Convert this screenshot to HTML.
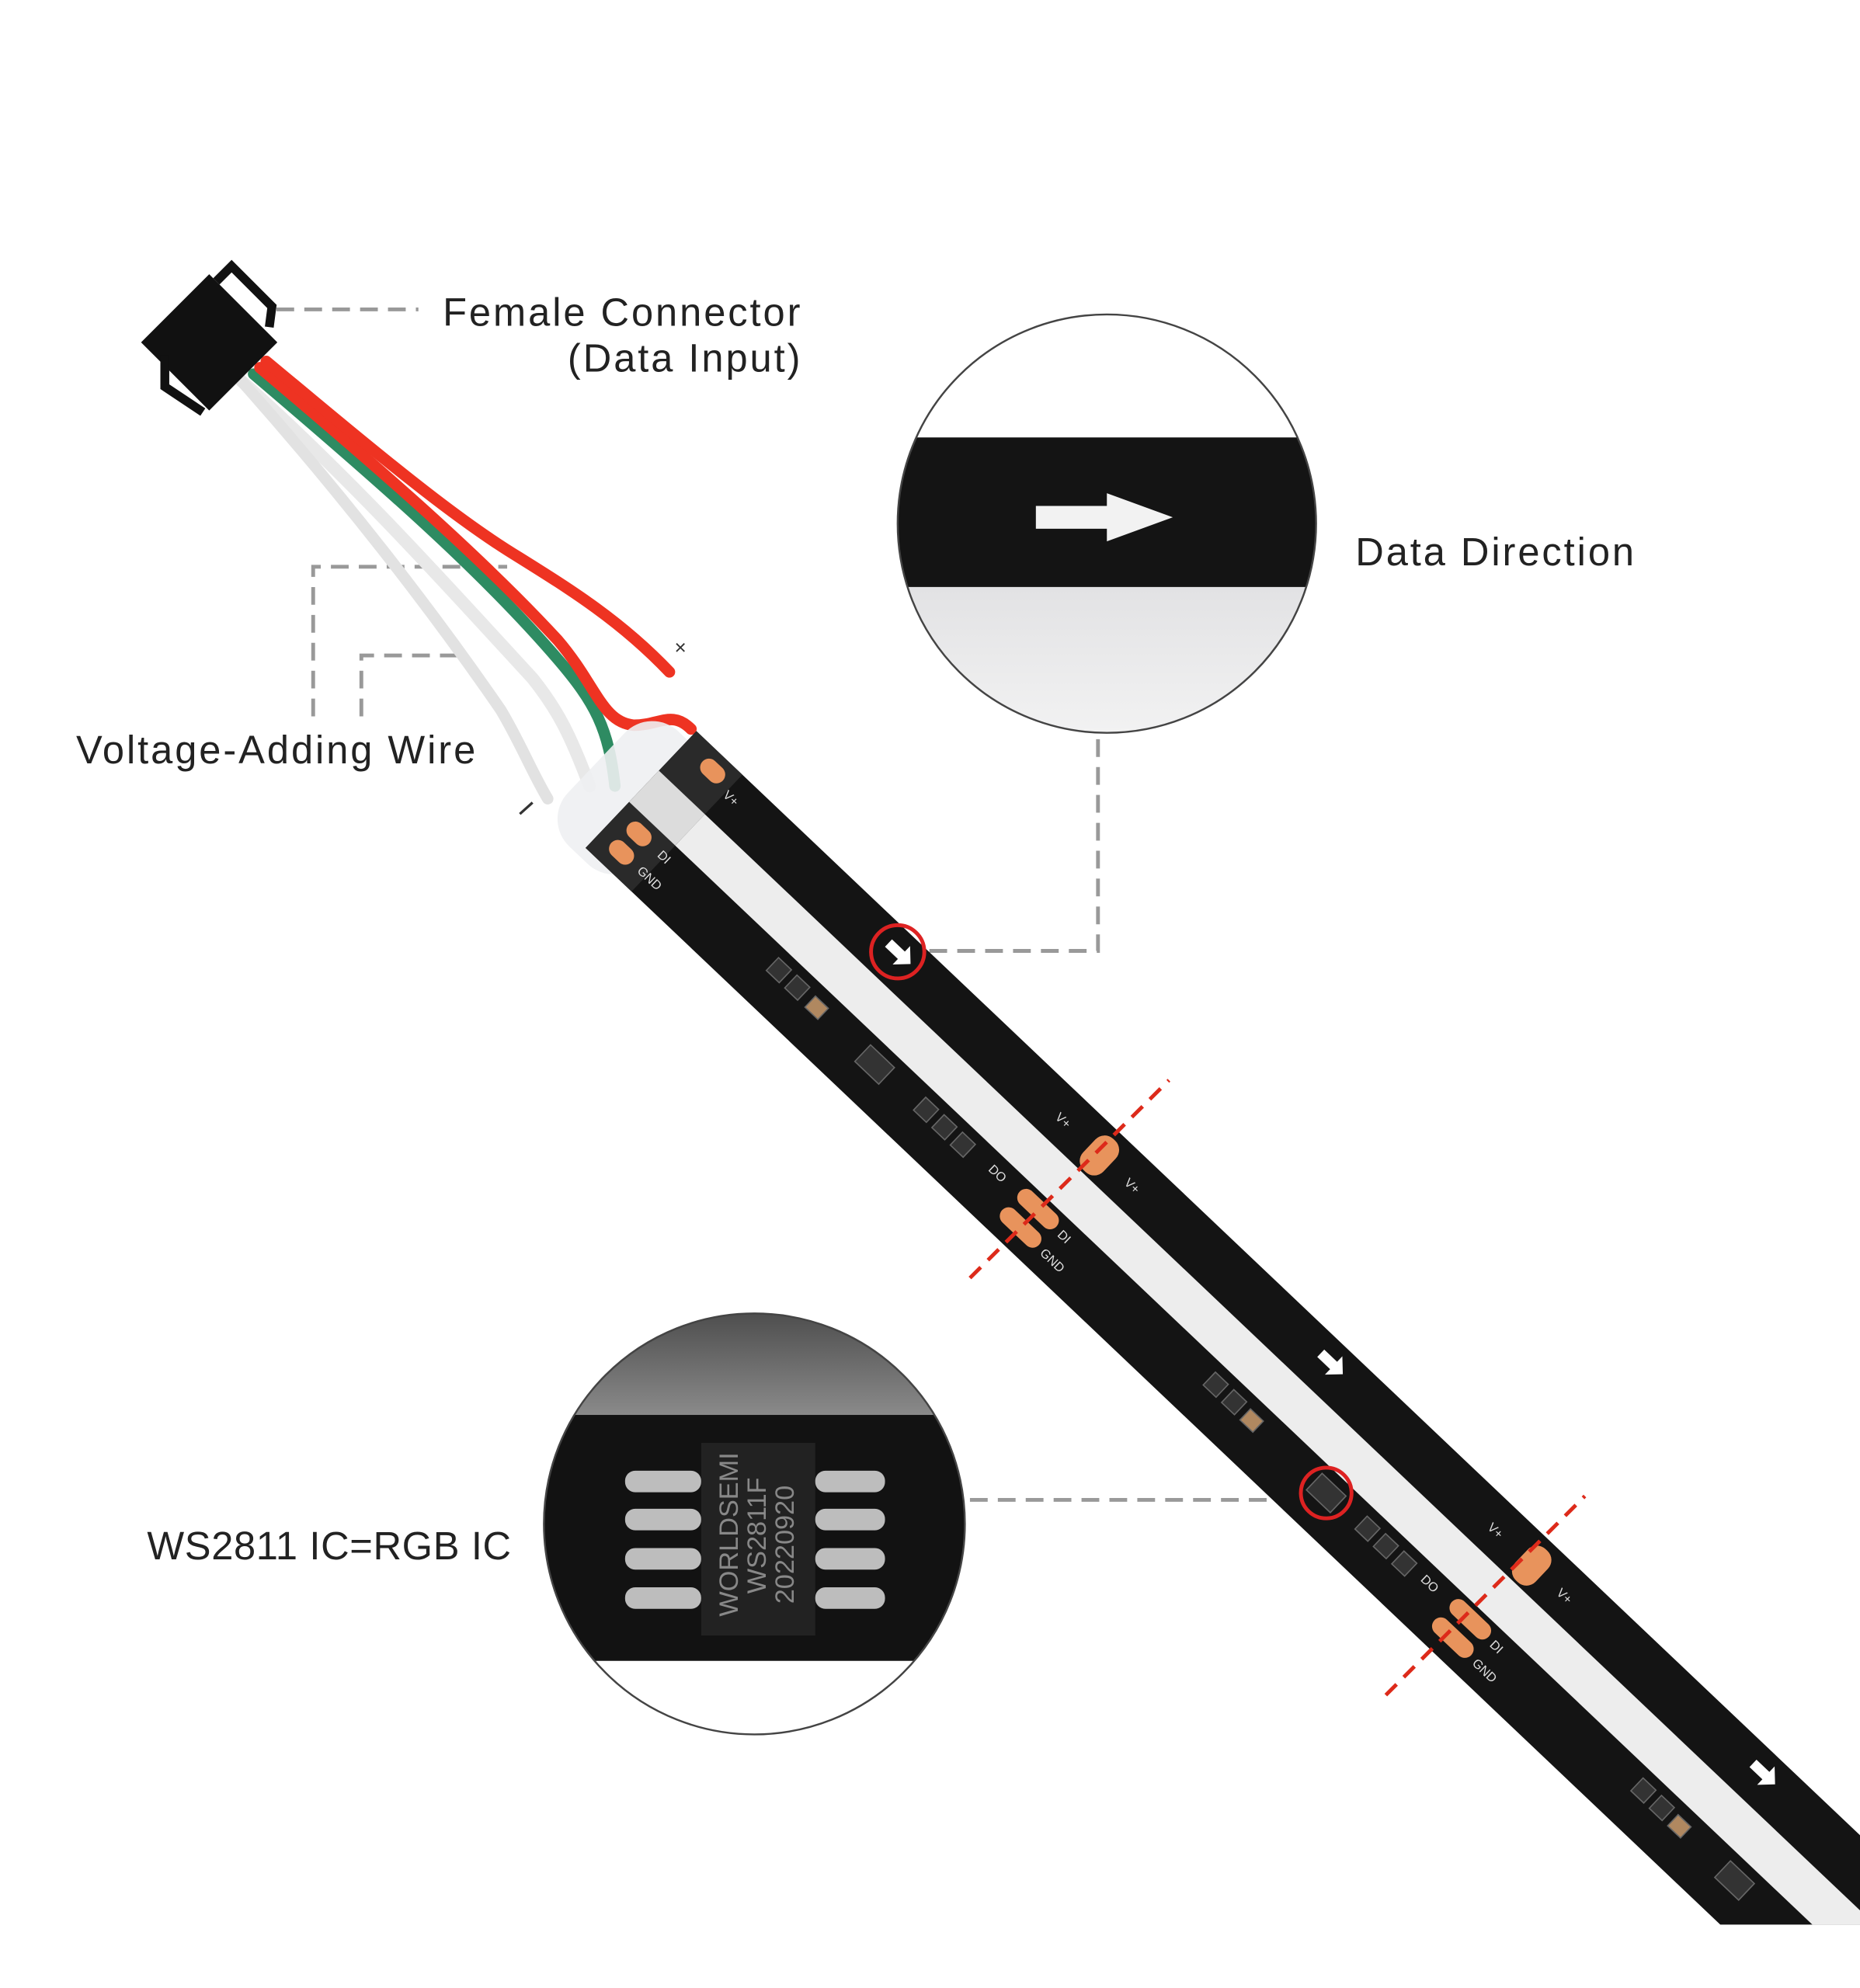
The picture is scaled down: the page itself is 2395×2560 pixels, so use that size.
<!DOCTYPE html>
<html><head><meta charset="utf-8"><style>
html,body{margin:0;padding:0;background:#fff;width:2395px;height:2560px;overflow:hidden;}
svg{display:block;}
text{font-family:"Liberation Sans",sans-serif;}
</style></head><body>
<svg width="2395" height="2560" viewBox="0 0 1467 1568" xmlns="http://www.w3.org/2000/svg">
<defs>
<clipPath id="c1"><circle cx="873" cy="413" r="165"/></clipPath>
<clipPath id="c2"><circle cx="595" cy="1202" r="166"/></clipPath>
<clipPath id="page"><rect x="0" y="0" width="1467" height="1518"/></clipPath>
<linearGradient id="gg" x1="0" y1="0" x2="0" y2="1"><stop offset="0" stop-color="#4a4a4a"/><stop offset="1" stop-color="#8a8a8a"/></linearGradient>
<linearGradient id="wg" x1="0" y1="0" x2="0" y2="1"><stop offset="0" stop-color="#e2e2e4"/><stop offset="1" stop-color="#f4f4f4"/></linearGradient>
</defs>
<rect width="1467" height="1568" fill="#fff"/>

<g stroke="#999" stroke-width="3" stroke-dasharray="14 8" fill="none">
<path d="M218 244 H330"/>
<path d="M247 565 V447 H400"/>
<path d="M285 565 V517 H365"/>
<path d="M733 750 H866 V582"/>
<path d="M765 1183 H1025"/>
</g>

<g fill="none" stroke-linecap="round">
<path d="M190 300 C280 380 360 470 420 535 C440 560 450 580 465 620" stroke="#e8e8e8" stroke-width="10"/>
<path d="M190 300 C270 390 340 480 395 560 C410 585 420 610 432 630" stroke="#e2e2e2" stroke-width="9"/>
<path d="M200 295 C300 380 380 450 440 520 C470 555 480 575 485 620" stroke="#2e8b62" stroke-width="9"/>
<path d="M205 290 C300 370 380 440 440 505 C470 540 475 570 500 572 C520 572 530 560 545 575" stroke="#ee3322" stroke-width="9"/>
<path d="M210 285 C300 360 360 410 410 440 C450 465 490 490 528 530" stroke="#ee3322" stroke-width="9"/>
</g>
<text x="532" y="516" font-size="16" fill="#333">×</text>
<path d="M410 642 L420 633" stroke="#333" stroke-width="2"/>

<g transform="translate(165,270) rotate(45)">
<rect x="-38" y="-38" width="76" height="76" fill="#111"/>
<path d="M-30 -38 L-30 -55 L15 -55 L25 -42" fill="none" stroke="#111" stroke-width="7"/>
</g>
<path d="M130 280 L130 305 L160 325" fill="none" stroke="#111" stroke-width="7"/>

<g clip-path="url(#page)">
<g transform="translate(490,610) rotate(43.5)">
<rect x="-20" y="-55" width="80" height="125" rx="30" fill="#eef0f2" opacity="0.9"/>
<rect x="20" y="-65" width="1450" height="127" fill="#141414"/>
<rect x="20" y="-22" width="1450" height="34" fill="#ededed"/>
<rect x="20" y="-65" width="50" height="127" fill="#2a2a2a"/>
<rect x="20" y="-22" width="50" height="34" fill="#dcdcdc"/>
<g fill="#e8935c">
<rect x="40" y="-58" width="22" height="14" rx="7"/>
<rect x="32" y="18" width="22" height="14" rx="7"/>
<rect x="32" y="38" width="22" height="14" rx="7"/>
<rect x="470" y="-58" width="22" height="34" rx="10"/>
<rect x="455" y="16" width="40" height="14" rx="7"/>
<rect x="455" y="36" width="40" height="14" rx="7"/>
<rect x="940" y="-58" width="22" height="34" rx="10"/>
<rect x="925" y="16" width="40" height="14" rx="7"/>
<rect x="925" y="36" width="40" height="14" rx="7"/>
</g>
<g font-size="10" fill="#ddd">
<text x="70" y="-42">V+</text><text x="65" y="28">DI</text><text x="62" y="48">GND</text>
<text x="435" y="-38">V+</text><text x="510" y="-38">V+</text>
<text x="425" y="28">DO</text><text x="500" y="28">DI</text><text x="500" y="48">GND</text>
<text x="905" y="-38">V+</text><text x="980" y="-38">V+</text>
<text x="895" y="28">DO</text><text x="970" y="28">DI</text><text x="970" y="48">GND</text>
</g>
<g fill="#333" stroke="#666" stroke-width="1">
<rect x="190" y="20" width="14" height="14"/><rect x="210" y="20" width="14" height="14"/><rect x="232" y="22" width="14" height="12" fill="#b08860"/>
<rect x="290" y="20" width="26" height="18"/><rect x="350" y="20" width="14" height="14"/><rect x="370" y="20" width="14" height="14"/><rect x="390" y="20" width="14" height="14"/>
<rect x="665" y="20" width="14" height="14"/><rect x="685" y="20" width="14" height="14"/><rect x="705" y="22" width="14" height="12" fill="#b08860"/>
<rect x="781" y="20" width="26" height="18"/><rect x="830" y="20" width="14" height="14"/><rect x="850" y="20" width="14" height="14"/><rect x="870" y="20" width="14" height="14"/>
<rect x="1130" y="20" width="14" height="14"/><rect x="1150" y="20" width="14" height="14"/><rect x="1170" y="22" width="14" height="12" fill="#b08860"/>
<rect x="1225" y="20" width="26" height="18"/>
</g>
<g fill="#fff">
<path d="M245 -52 h14 v-6 l10 10 l-10 10 v-6 h-14z"/>
<path d="M715 -52 h14 v-6 l10 10 l-10 10 v-6 h-14z"/>
<path d="M1185 -52 h14 v-6 l10 10 l-10 10 v-6 h-14z"/>
</g>
<circle cx="255" cy="-48" r="21" fill="none" stroke="#d22" stroke-width="3"/>
<circle cx="794" cy="29" r="20" fill="none" stroke="#d22" stroke-width="3"/>
</g>
</g>

<g stroke="#dd2a1a" stroke-width="3" stroke-dasharray="12 8">
<path d="M765 1008 L922 852"/>
<path d="M1093 1337 L1250 1180"/>
</g>

<g clip-path="url(#c1)">
<rect x="700" y="240" width="350" height="350" fill="#fff"/>
<rect x="700" y="345" width="350" height="118" fill="#141414"/>
<rect x="700" y="463" width="350" height="130" fill="url(#wg)"/>
<path d="M817 399 h56 v-10 l52 19 l-52 19 v-10 h-56z" fill="#f2f2f2"/>
</g>
<circle cx="873" cy="413" r="165" fill="none" stroke="#444" stroke-width="1.5"/>

<g clip-path="url(#c2)">
<rect x="420" y="1030" width="360" height="345" fill="#fff"/>
<rect x="420" y="1030" width="360" height="86" fill="url(#gg)"/>
<rect x="420" y="1116" width="360" height="194" fill="#121212"/>
<rect x="553" y="1138" width="90" height="152" fill="#222"/>
<g fill="#bdbdbd">
<rect x="493" y="1160" width="60" height="17" rx="8"/><rect x="493" y="1190" width="60" height="17" rx="8"/>
<rect x="493" y="1221" width="60" height="17" rx="8"/><rect x="493" y="1252" width="60" height="17" rx="8"/>
<rect x="643" y="1160" width="55" height="17" rx="8"/><rect x="643" y="1190" width="55" height="17" rx="8"/>
<rect x="643" y="1221" width="55" height="17" rx="8"/><rect x="643" y="1252" width="55" height="17" rx="8"/>
</g>
<g transform="translate(582,1275) rotate(-90)" fill="#888" font-size="21">
<text x="0" y="0">WORLDSEMI</text><text x="18" y="22">WS2811F</text><text x="10" y="44">20220920</text>
</g>
</g>
<circle cx="595" cy="1202" r="166" fill="none" stroke="#444" stroke-width="1.5"/>

<g font-size="31" fill="#222" letter-spacing="1.8">
<text x="633" y="257" text-anchor="end">Female Connector</text>
<text x="633" y="293" text-anchor="end">(Data Input)</text>
<text x="1069" y="446">Data Direction</text>
<text x="60" y="602">Voltage-Adding Wire</text>
<text x="116" y="1230" letter-spacing="0.4">WS2811 IC=RGB IC</text>
</g>
</svg>
</body></html>
